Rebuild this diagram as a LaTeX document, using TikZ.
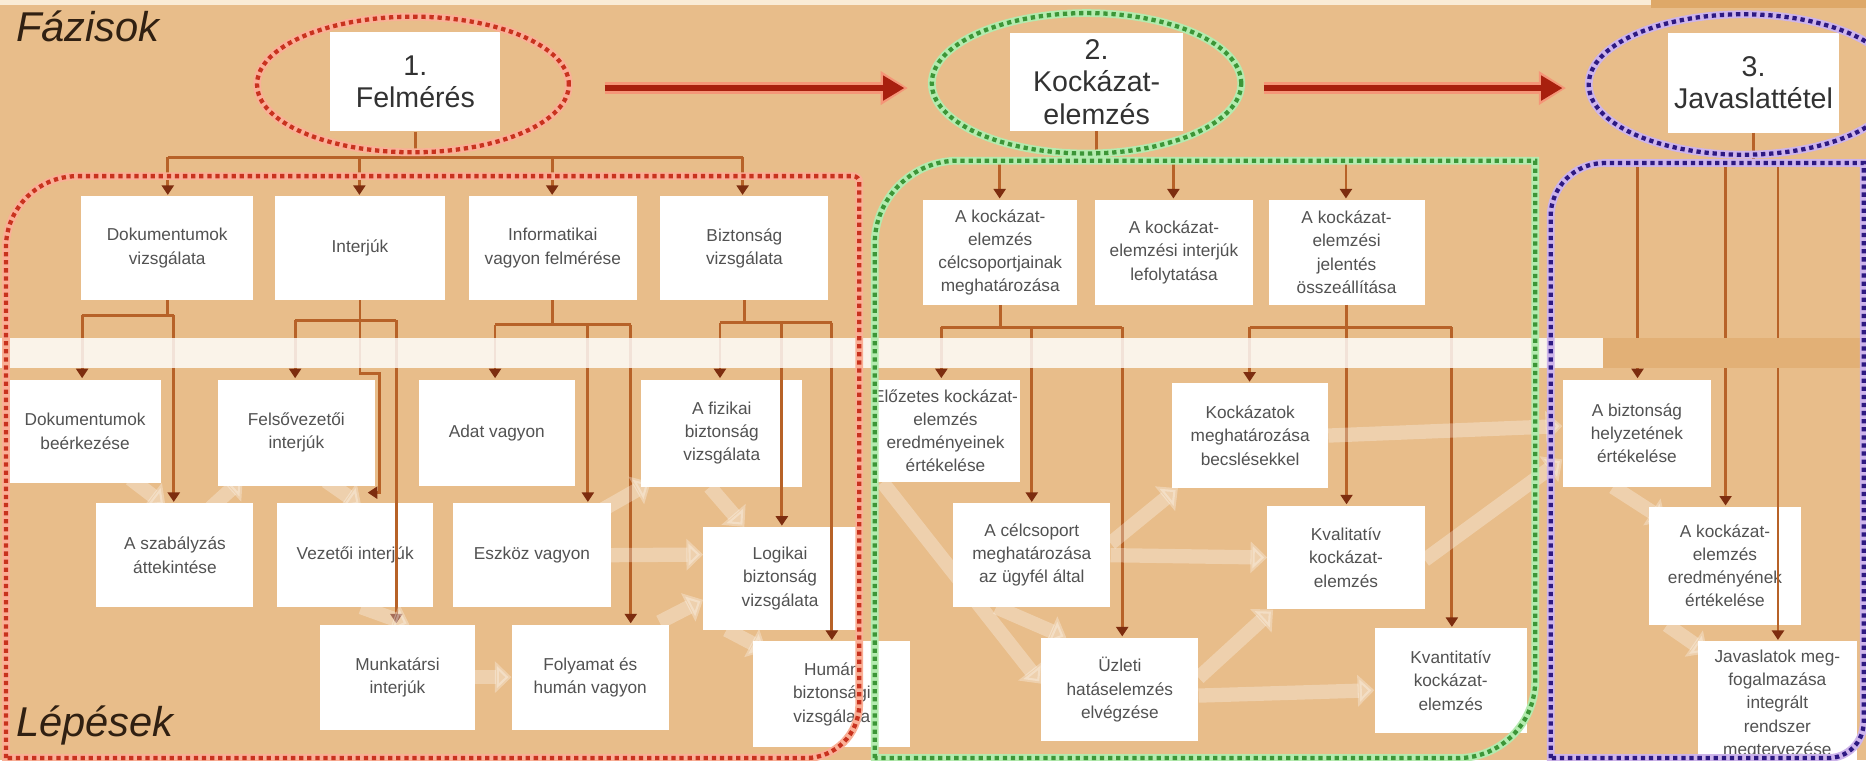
\documentclass[tikz,border=0pt]{standalone}
\usepackage{fontspec}
\setmainfont{Liberation Sans}
\usetikzlibrary{arrows.meta}

\definecolor{bg}{RGB}{232,189,138}
\definecolor{topcream}{RGB}{250,236,214}
\definecolor{topdark}{RGB}{222,168,104}
\definecolor{bandright}{RGB}{226,176,118}
\definecolor{boxtext}{RGB}{82,82,82}
\definecolor{phasetext}{RGB}{50,50,50}
\definecolor{titletext}{RGB}{48,32,18}
\definecolor{linkc}{RGB}{183,98,40}
\definecolor{tipc}{RGB}{125,45,15}
\definecolor{phred}{RGB}{168,32,14}
\definecolor{phpink}{RGB}{245,150,120}
\definecolor{reddot}{RGB}{200,50,30}
\definecolor{redglow}{RGB}{250,175,150}
\definecolor{grdot}{RGB}{60,150,55}
\definecolor{grglow}{RGB}{180,235,175}
\definecolor{bldot}{RGB}{45,25,130}
\definecolor{blglow}{RGB}{205,180,235}

\begin{document}
\begin{tikzpicture}[x=1pt,y=-1pt,
  box/.style={fill=white, inner sep=2pt, align=center, text=boxtext,
    font=\fontsize{14.5}{19.5}\selectfont},
  phase/.style={fill=white, inner sep=0pt, align=center, text=phasetext,
    font=\fontsize{24}{27}\selectfont, minimum width=143pt, minimum height=84pt},
  link/.style={draw=linkc, line width=2.4pt},
  drop/.style={link, -{Triangle[width=10pt,length=8pt,color=tipc]}, shorten >=1pt},
  flow/.style={draw=white, line width=12pt, opacity=0.3,
    -{Triangle[width=26pt,length=14pt]}},
  reddots/.style={draw=reddot, line width=3.6pt, dash pattern=on 3.6pt off 3.2pt,
    preaction={draw=redglow, line width=6.5pt, solid}},
  grdots/.style={draw=grdot, line width=3.6pt, dash pattern=on 3.6pt off 3.2pt,
    preaction={draw=grglow, line width=6.5pt, solid}},
  bldots/.style={draw=bldot, line width=3.6pt, dash pattern=on 3.6pt off 3.2pt,
    preaction={draw=blglow, line width=6.5pt, solid}},
  phglow/.style={draw=phpink, line width=10pt, -{Triangle[width=27pt,length=23pt]},
    shorten >=-3pt},
  pharrow/.style={draw=phred, line width=5pt, -{Triangle[width=20pt,length=18pt]}},
  heading/.style={anchor=base west, text=titletext,
    font=\fontsize{35}{40}\selectfont\itshape}
]
\useasboundingbox (0,0) rectangle (1568,639);
\fill[bg] (0,0) rectangle (1568,639);
\fill[topcream] (0,0) rectangle (1387,4);
\fill[topdark] (1387,0) rectangle (1568,7);

% phase boxes
\node[phase] (p1) at (349,68.5) {1.\\Felmérés};
\node[phase, minimum width=145pt, minimum height=82pt] (p2) at (921.5,69) {2.\\Kockázat-\\elemzés};
\node[phase] (p3) at (1473.5,69.5) {3.\\Javaslattétel};

% first level of steps
\node[box, minimum width=145pt, minimum height=87pt] (r1) at (140.5,208.5) {Dokumentumok\\vizsgálata};
\node[box, minimum width=143pt, minimum height=87pt] (r2) at (302.5,208.5) {Interjúk};
\node[box, minimum width=141pt, minimum height=87pt] (r3) at (464.5,208.5) {Informatikai\\vagyon felmérése};
\node[box, minimum width=141pt, minimum height=87pt] (r4) at (625.5,208.5) {Biztonság\\vizsgálata};
\node[box, minimum width=129pt, minimum height=88pt] (s1) at (840.5,212) {A kockázat-\\elemzés\\célcsoportjainak\\meghatározása};
\node[box, minimum width=133pt, minimum height=88pt] (s2) at (986.5,212) {A kockázat-\\elemzési interjúk\\lefolytatása};
\node[box, minimum width=131pt, minimum height=88pt] (s3) at (1131.5,212) {A kockázat-\\elemzési\\jelentés\\összeállítása};

% second level: survey
\node[box, minimum width=127pt, minimum height=87pt] (B1) at (71.5,362.5) {Dokumentumok\\beérkezése};
\node[box, minimum width=132pt, minimum height=87pt] (B2) at (147,466.5) {A szabályzás\\áttekintése};
\node[box, minimum width=132pt, minimum height=89pt] (B3) at (249,363.5) {Felsővezetői\\interjúk};
\node[box, minimum width=131pt, minimum height=87pt] (B4) at (298.5,466.5) {Vezetői interjúk};
\node[box, minimum width=130pt, minimum height=88pt] (B5) at (334,569) {Munkatársi\\interjúk};
\node[box, minimum width=131pt, minimum height=89pt] (B6) at (417.5,363.5) {Adat vagyon};
\node[box, minimum width=132pt, minimum height=87pt] (B7) at (447,466.5) {Eszköz vagyon};
\node[box, minimum width=132pt, minimum height=88pt] (B8) at (496,569) {Folyamat és\\humán vagyon};
\node[box, minimum width=135pt, minimum height=90pt] (B9) at (606.5,364) {A fizikai\\biztonság\\vizsgálata};
\node[box, minimum width=129pt, minimum height=86pt] (B10) at (655.5,486) {Logikai\\biztonság\\vizsgálata};
\node[box, minimum width=132pt, minimum height=89pt] (B11) at (699,583.5) {Humán\\biztonsági\\vizsgálata};

% second level: risk analysis
\node[box, minimum width=121pt, minimum height=86pt] (C1) at (794.5,362) {Előzetes kockázat-\\elemzés\\eredményeinek\\értékelése};
\node[box, minimum width=132pt, minimum height=87pt] (C2) at (867,466.5) {A célcsoport\\meghatározása\\az ügyfél által};
\node[box, minimum width=132pt, minimum height=87pt] (C3) at (941,579.5) {Üzleti\\hatáselemzés\\elvégzése};
\node[box, minimum width=131pt, minimum height=88pt] (C4) at (1050.5,366) {Kockázatok\\meghatározása\\becslésekkel};
\node[box, minimum width=132pt, minimum height=87pt] (C5) at (1131,468.5) {Kvalitatív\\kockázat-\\elemzés};
\node[box, minimum width=128pt, minimum height=88pt] (C6) at (1219,572) {Kvantitatív\\kockázat-\\elemzés};

% second level: proposals
\node[box, minimum width=125pt, minimum height=90pt] (D1) at (1375.5,364) {A biztonság\\helyzetének\\értékelése};
\node[box, minimum width=127pt, minimum height=99pt] (D2) at (1449.5,475.5) {A kockázat-\\elemzés\\eredményének\\értékelése};
\node[box, minimum width=133pt, minimum height=106pt] (D3) at (1493.5,592) {Javaslatok meg-\\fogalmazása\\integrált\\rendszer\\megtervezése};

% phase -> first level
\coordinate (a1) at (141,132); \coordinate (a2) at (302,132);
\coordinate (a3) at (464,132); \coordinate (a4) at (624,132);
\draw[link] (p1.south) -- (p1.south |- a1);
\draw[link] (a1) -- (a4);
\foreach \j/\t in {a1/r1,a2/r2,a3/r3,a4/r4} \draw[drop] (\j) -- (\j |- \t.north);

\coordinate (b1) at (840,135); \coordinate (b2) at (986,135); \coordinate (b3) at (1131,135);
\draw[link] (p2.south) -- (p2.south |- b1);
\draw[link] (b1) -- (b3);
\foreach \j/\t in {b1/s1,b2/s2,b3/s3} \draw[drop] (\j) -- (\j |- \t.north);

\coordinate (c1) at (1376,137); \coordinate (c2) at (1450,137); \coordinate (c3) at (1494,137);
\draw[link] (p3.south) -- (p3.south |- c1);
\draw[link] (c1) -- (c3);
\foreach \j/\t in {c1/D1,c2/D2,c3/D3} \draw[drop] (\j) -- (\j |- \t.north);

% first level -> second level
\coordinate (d1) at (69,265); \coordinate (d2) at (146,265);
\draw[link] (r1.south) -- (r1.south |- d1);
\draw[link] (d1) -- (d2);
\foreach \j/\t in {d1/B1,d2/B2} \draw[drop] (\j) -- (\j |- \t.north);

\coordinate (e1) at (248,269); \coordinate (e2) at (333,269);
\coordinate (e3) at (319,314); \coordinate (e4) at (308,414);
\draw[link] (e1) -- (e2);
\draw[drop] (r2.south) |- (e3) |- (e4);
\foreach \j/\t in {e1/B3,e2/B5} \draw[drop] (\j) -- (\j |- \t.north);

\coordinate (f1) at (416,273); \coordinate (f2) at (494,273); \coordinate (f3) at (530,273);
\draw[link] (r3.south) -- (r3.south |- f1);
\draw[link] (f1) -- (f3);
\foreach \j/\t in {f1/B6,f2/B7,f3/B8} \draw[drop] (\j) -- (\j |- \t.north);

\coordinate (g1) at (605,271); \coordinate (g2) at (657,271); \coordinate (g3) at (699,271);
\draw[link] (r4.south) -- (r4.south |- g1);
\draw[link] (g1) -- (g3);
\foreach \j/\t in {g1/B9,g2/B10,g3/B11} \draw[drop] (\j) -- (\j |- \t.north);

\coordinate (h1) at (791,275); \coordinate (h2) at (867,275); \coordinate (h3) at (943,275);
\draw[link] (s1.south) -- (s1.south |- h1);
\draw[link] (h1) -- (h3);
\foreach \j/\t in {h1/C1,h2/C2,h3/C3} \draw[drop] (\j) -- (\j |- \t.north);

\coordinate (i1) at (1050,275); \coordinate (i2) at (1220,275);
\draw[link] (i1) -- (i2);
\draw[drop] (s3.south) -- (s3.south |- C5.north);
\foreach \j/\t in {i1/C4,i2/C6} \draw[drop] (\j) -- (\j |- \t.north);

% faint flow arrows between the steps
\draw[flow] ([xshift=38pt,yshift=4pt]B1.south) -- ([xshift=-8pt,yshift=-2pt]B2.north);
\draw[flow] ([xshift=30pt,yshift=-4pt]B2.north) -- ([xshift=-45pt,yshift=6pt]B3.south);
\draw[flow] ([xshift=25pt,yshift=4pt]B3.south) -- ([xshift=5pt,yshift=-2pt]B4.north);
\draw[flow] ([xshift=5pt]B4.south) -- ([xshift=10pt]B5.north);
\draw[flow] (B5.east) -- (B8.west);
\draw[flow] ([xshift=-8pt,yshift=-6pt]B7.north east) -- ([xshift=8pt,yshift=4pt]B9.south west);
\draw[flow] (B7.east) -- ([yshift=20pt]B10.west);
\draw[flow] ([xshift=-8pt,yshift=2pt]B8.north east) -- ([yshift=-18pt]B10.west);
\draw[flow] ([xshift=-10pt]B9.south) -- ([xshift=-30pt]B10.north);
\draw[flow] ([xshift=-45pt]B10.south) -- ([xshift=-55pt,yshift=-8pt]B11.north);
\draw[flow] ([xshift=10pt]C1.south west) -- ([yshift=5pt]C3.west);
\draw[flow] ([xshift=-30pt]C2.south) -- ([xshift=-45pt]C3.north);
\draw[flow] ([yshift=10pt]C2.east) -- ([xshift=5pt]C4.south west);
\draw[flow] (C2.east) -- (C5.west);
\draw[flow] ([yshift=10pt]C3.east) -- ([xshift=5pt]C5.south west);
\draw[flow] ([yshift=-5pt]C3.east) -- ([yshift=-8pt]C6.west);
\draw[flow] (C4.east) -- ([yshift=6pt]D1.west);
\draw[flow] ([yshift=-2pt]C5.east) -- ([yshift=-22pt]D1.west);
\draw[flow] ([xshift=-20pt]D1.south) -- ([xshift=14pt,yshift=-12pt]D2.north west);
\draw[flow] ([xshift=15pt]D2.south west) -- ([xshift=8pt,yshift=-10pt]D3.north west);

% light band between the two levels
\fill[white, opacity=0.82] (0,284) rectangle (1347,309);
\fill[bandright] (1347,284) rectangle (1568,309);

% phase regions
\draw[reddots] (5,637) -- (5,208) .. controls (5,174.9) and (31.9,148) .. (65,148)
  -- (717,148) .. controls (719.8,148) and (722,150.2) .. (722,153)
  -- (722,592) .. controls (722,616.8) and (701.8,637) .. (677,637) -- cycle;
\draw[grdots] (735,637) -- (735,205) .. controls (735,166.4) and (766.4,135) .. (805,135)
  -- (1290,135) -- (1290,572) .. controls (1290,607.9) and (1260.9,637) .. (1225,637) -- cycle;
\draw[bldots] (1303,637) -- (1303,182) .. controls (1303,157.2) and (1323.2,137) .. (1348,137)
  -- (1566,137) -- (1566,607) .. controls (1566,623.6) and (1552.6,637) .. (1536,637) -- cycle;

\draw[reddots] (347,71) ellipse [x radius=131pt, y radius=57pt];
\draw[grdots] (913,70) ellipse [x radius=130pt, y radius=59pt];
\draw[bldots] (1465,71) ellipse [x radius=130pt, y radius=59pt];

% arrows between the phases
\coordinate (u1) at (508,74); \coordinate (u2) at (760,74);
\coordinate (u3) at (1062,74); \coordinate (u4) at (1313,74);
\draw[phglow] (u1) -- (u2);
\draw[pharrow] (u1) -- (u2);
\draw[phglow] (u3) -- (u4);
\draw[pharrow] (u3) -- (u4);

% row headings
\node[heading] (fazis) at (10,35) {Fázisok};
\node[heading] (lepes) at (10,619) {Lépések};
\end{tikzpicture}
\end{document}
